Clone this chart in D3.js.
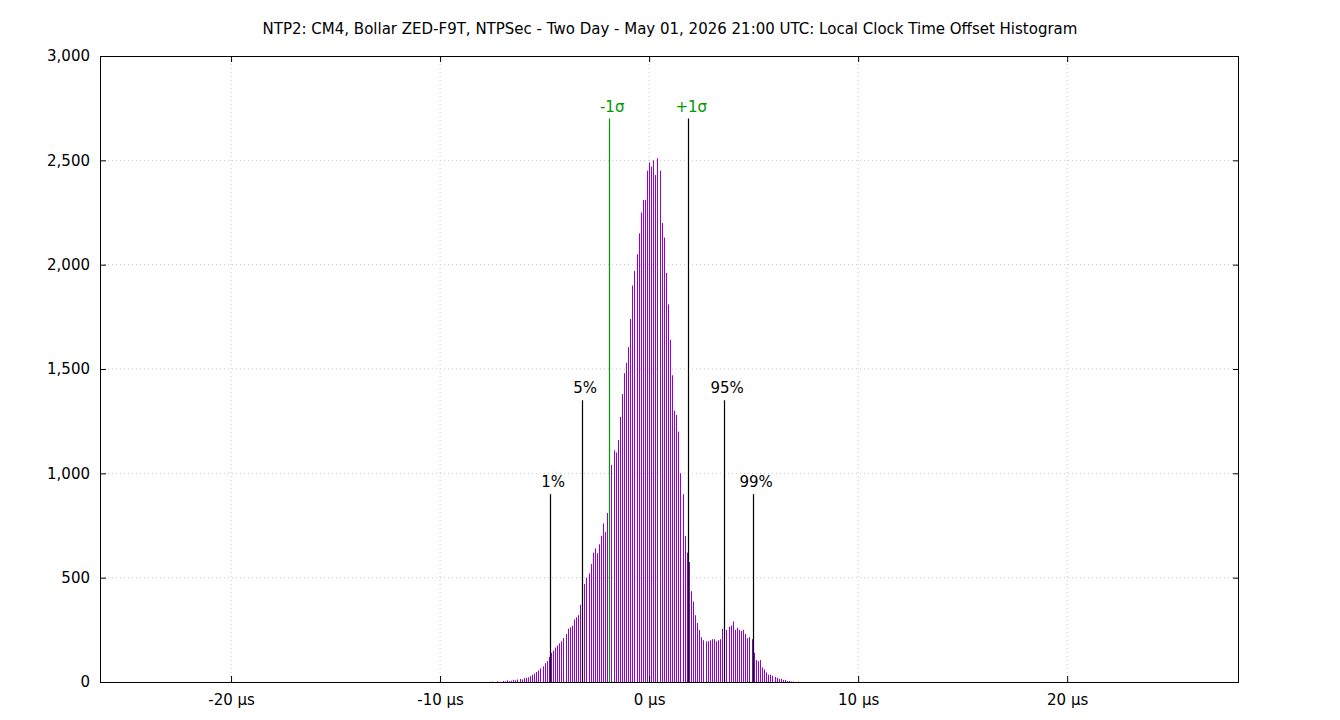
<!DOCTYPE html>
<html><head><meta charset="utf-8">
<script src="https://cdn.jsdelivr.net/npm/d3@7"></script>
<style>body{margin:0;background:#fff}svg{font-family:"DejaVu Sans",sans-serif}</style>
</head><body><svg id="c" width="1340" height="720"></svg>
<script>
const title = "NTP2: CM4, Bollar ZED-F9T, NTPSec - Two Day - May 01, 2026 21:00 UTC: Local Clock Time Offset Histogram";
const binStart = -7.5, binStep = 0.1;
const counts = [
 2,0,3,0,0,5,3,8,4,6,
 10,8,12,15,12,18,20,22,28,35,
 40,48,55,65,75,90,100,120,140,150,
 165,175,185,195,210,230,255,262,270,300,
 310,320,370,430,470,500,520,565,620,640,
 617,660,700,760,720,810,920,1040,1110,1100,
 1160,1270,1380,1480,1530,1605,1740,1900,1970,2050,
 2150,2250,2310,2310,2450,2490,2470,2500,2430,2510,
 2450,2200,2130,1960,1810,1640,1470,1300,1280,1200,
 1000,900,700,620,575,435,385,320,283,250,
 215,200,195,195,200,205,205,195,200,205,
 255,245,250,265,270,290,250,260,250,245,
 250,230,210,215,205,140,105,100,105,70,
 60,45,35,35,30,25,20,15,15,10,
 10,5,5,3,2,0,1,0];
const markerLabels = ["1%","5%","-1σ","+1σ","95%","99%"];
const markerX = [-4.74,-3.2,-1.91,1.87,3.59,4.98];
const markerH = [900,1350,2700,2700,1350,900];
const markerLineColor = ["#000","#000","#009900","#000","#000","#000"];
const markerTextColor = ["#000","#000","#009900","#009900","#000","#000"];
const xTicks = [-20,-10,0,10,20];
const yTicks = [0,500,1000,1500,2000,2500,3000];

const svg = d3.select("#c");
const L=100,R=1239,T=56,B=682;
const x = d3.scaleLinear().domain([-26.27,28.22]).range([L,R]);
const y = d3.scaleLinear().domain([0,3000]).range([B,T]);

svg.append("text").attr("x",670).attr("y",34).attr("text-anchor","middle").attr("font-size",15).text(title);

const g = svg.append("g");
// grid
g.selectAll(".gx").data(xTicks).join("line").attr("x1",d=>x(d)).attr("x2",d=>x(d)).attr("y1",T).attr("y2",B)
 .attr("stroke","#c8c8c8").attr("stroke-dasharray","1,3").attr("stroke-width",1);
g.selectAll(".gy").data(yTicks.slice(1,-1)).join("line").attr("y1",d=>y(d)).attr("y2",d=>y(d)).attr("x1",L).attr("x2",R)
 .attr("stroke","#c8c8c8").attr("stroke-dasharray","1,3").attr("stroke-width",1);

// bars
g.selectAll(".bar").data(counts).join("line")
 .attr("x1",(d,i)=>Math.round(x(binStart+i*binStep))+0.5).attr("x2",(d,i)=>Math.round(x(binStart+i*binStep))+0.5)
 .attr("y1",y(0)).attr("y2",d=>y(d)).attr("stroke","#9400d3").attr("stroke-width",1);

// markers
markerX.forEach((v,i)=>{
  g.append("line").attr("x1",Math.round(x(v))+0.5).attr("x2",Math.round(x(v))+0.5).attr("y1",y(0)).attr("y2",y(markerH[i]))
   .attr("stroke",markerLineColor[i]).attr("stroke-width",1.2);
  g.append("text").attr("x",x(v)+3).attr("y",y(markerH[i])-7).attr("text-anchor","middle").attr("font-size",15)
   .attr("fill",markerTextColor[i]).text(markerLabels[i]);
});

// frame
svg.append("rect").attr("x",L+0.5).attr("y",T+0.5).attr("width",R-L-1).attr("height",B-T).attr("fill","none").attr("stroke","#000");

// axes
const xa = svg.append("g").attr("transform",`translate(0,${B})`)
 .call(d3.axisBottom(x).tickValues(xTicks).tickSize(-6).tickPadding(12).tickFormat(d=>d+" µs"));
const xt = svg.append("g").attr("transform",`translate(0,${T})`)
 .call(d3.axisTop(x).tickValues(xTicks).tickSize(-6).tickFormat(""));
const ya = svg.append("g").attr("transform",`translate(${L},0)`)
 .call(d3.axisLeft(y).tickValues(yTicks).tickSize(-6).tickPadding(10));
const yr = svg.append("g").attr("transform",`translate(${R},0)`)
 .call(d3.axisRight(y).tickValues(yTicks).tickSize(-6).tickFormat(""));
[xa,xt,ya,yr].forEach(a=>{a.select(".domain").remove();a.selectAll("text").attr("font-size",15).attr("font-family","DejaVu Sans").attr("fill","#000");});
</script></body></html>
